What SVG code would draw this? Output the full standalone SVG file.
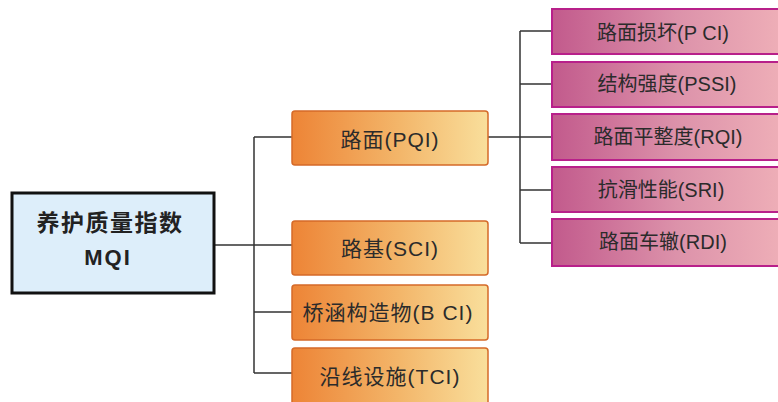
<svg xmlns="http://www.w3.org/2000/svg" width="778" height="402" viewBox="0 0 778 402">
<defs>
<linearGradient id="og" x1="0" y1="0" x2="1" y2="0">
<stop offset="0" stop-color="#ed8436"/>
<stop offset="0.55" stop-color="#f3b66a"/>
<stop offset="1" stop-color="#f9df9c"/>
</linearGradient>
<linearGradient id="pg" x1="0" y1="0" x2="1" y2="0">
<stop offset="0" stop-color="#c25a8c"/>
<stop offset="0.5" stop-color="#dc92aa"/>
<stop offset="1" stop-color="#f2b4ba"/>
</linearGradient>
<style>
.root{fill:#ddeefa;stroke:#111;stroke-width:3}
.mid{fill:url(#og);stroke:#d56a28;stroke-width:1.5}
.leaf{fill:url(#pg);stroke:#b8208a;stroke-width:2}
.t{font-family:"Liberation Sans","Noto Sans CJK SC",sans-serif;fill:#2b2b2b;text-anchor:middle;dominant-baseline:central}
.rt{font-size:23px;font-weight:bold;fill:#222;letter-spacing:1.5px}
.rm{font-size:22px;font-weight:bold;fill:#222;letter-spacing:2px}
.mt{font-size:21px;letter-spacing:1px}
.lt{font-size:20px}
.c{fill:none;stroke:#333;stroke-width:1.5}
</style>
</defs>
<rect width="778" height="402" fill="#fff"/>
<g id="connectors">
<path class="c" d="M215,245 H254 M254,137 V373 M254,137 H292 M254,245 H292 M254,312 H292 M254,373 H292"/>
<path class="c" d="M488,137 H552 M520,31 V243 M520,31 H552 M520,84 H552 M520,190 H552 M520,243 H552"/>
</g>
<g id="root">
<rect class="root" x="12" y="193" width="202" height="100"/>
<text class="t rt" x="110" y="223">养护质量指数</text>
<text class="t rm" x="108" y="257">MQI</text>
</g>
<g id="pqi">
<rect class="mid" x="292" y="111" width="196" height="54" rx="3"/>
<text class="t mt" x="390" y="139">路面(PQI)</text>
</g>
<g id="sci">
<rect class="mid" x="292" y="221" width="196" height="54" rx="3"/>
<text class="t mt" x="390" y="248">路基(SCI)</text>
</g>
<g id="bci">
<rect class="mid" x="292" y="285" width="196" height="55" rx="3"/>
<text class="t mt" x="388" y="312">桥涵构造物(B CI)</text>
</g>
<g id="tci">
<rect class="mid" x="292" y="348" width="196" height="60" rx="3"/>
<text class="t mt" x="390" y="376">沿线设施(TCI)</text>
</g>
<g id="pci">
<rect class="leaf" x="552" y="9" width="250" height="45"/>
<text class="t lt" x="663" y="33">路面损坏(P CI)</text>
</g>
<g id="pssi">
<rect class="leaf" x="552" y="62" width="250" height="45"/>
<text class="t lt" x="667" y="84">结构强度(PSSI)</text>
</g>
<g id="rqi">
<rect class="leaf" x="552" y="114" width="250" height="46"/>
<text class="t lt" x="668" y="137">路面平整度(RQI)</text>
</g>
<g id="sri">
<rect class="leaf" x="552" y="167" width="250" height="45"/>
<text class="t lt" x="661" y="190">抗滑性能(SRI)</text>
</g>
<g id="rdi">
<rect class="leaf" x="552" y="219" width="250" height="47"/>
<text class="t lt" x="663" y="242">路面车辙(RDI)</text>
</g>
</svg>
